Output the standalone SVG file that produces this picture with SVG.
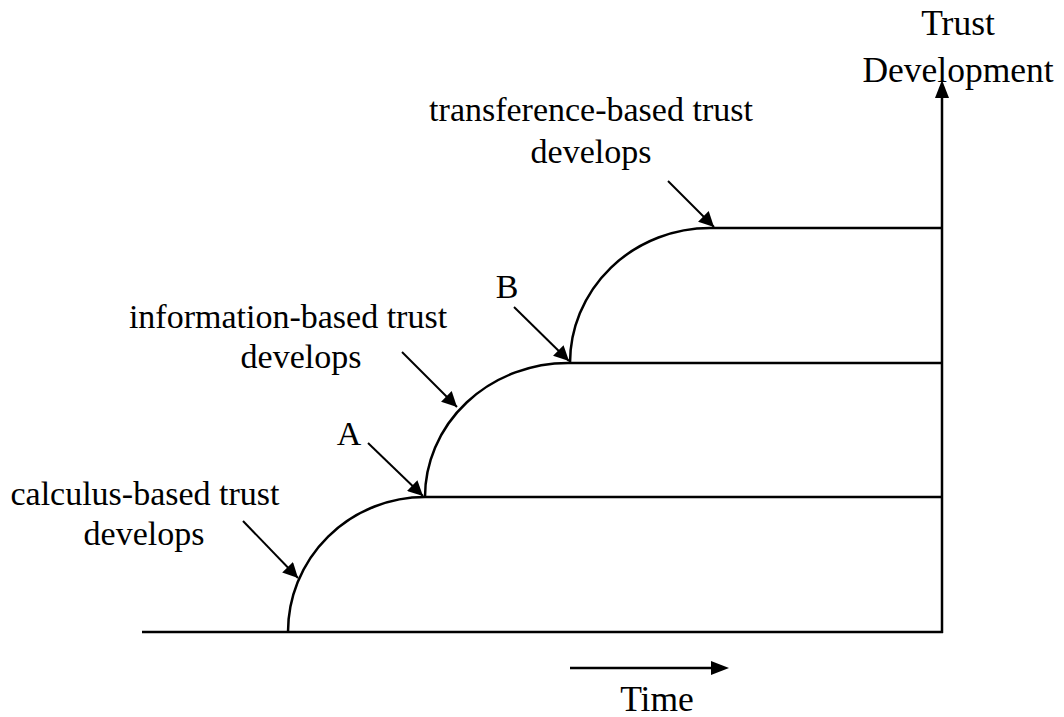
<svg xmlns="http://www.w3.org/2000/svg" width="1064" height="717" viewBox="0 0 1064 717">
<defs>
<style>
text{font-family:"Liberation Serif","Times New Roman",serif;font-size:34px;fill:#000;text-anchor:middle}
.axl{font-size:35.5px}
.ln{fill:none;stroke:#000;stroke-width:2.5}
.ar{fill:none;stroke:#000;stroke-width:2;marker-end:url(#ah)}
</style>
<marker id="ah" viewBox="0 0 10 10" refX="10" refY="5" markerWidth="9" markerHeight="7.5" markerUnits="strokeWidth" orient="auto">
<path d="M0,0 L10,5 L0,10 Z" fill="#000"/>
</marker>
</defs>
<g id="axes">
<line class="ln" x1="142" y1="632" x2="943" y2="632"/>
<line class="ln" x1="942" y1="633" x2="942" y2="96"/>
<path d="M942,80 L935,98 L949,98 Z" fill="#000"/>
<line class="ln" x1="570" y1="668" x2="712" y2="668"/>
<path d="M729,668 L711,661 L711,675 Z" fill="#000"/>
</g>
<g id="curves">
<path class="ln" d="M288,632 A137,135 0 0 1 425,497 L942,497"/>
<path class="ln" d="M425,497 A143,134 0 0 1 568,363 L942,363"/>
<path class="ln" d="M570,363 A140,135 0 0 1 710,228 L942,228"/>
</g>
<g id="connectors">
<line class="ar" x1="243" y1="521" x2="298" y2="578"/>
<line class="ar" x1="368" y1="443" x2="423" y2="496"/>
<line class="ar" x1="402" y1="352" x2="457" y2="407"/>
<line class="ar" x1="514" y1="307" x2="569" y2="361"/>
<line class="ar" x1="668" y1="181" x2="714" y2="227"/>
</g>
<g id="label-transference">
<text x="591" y="121">transference-based trust</text>
<text x="591" y="163">develops</text>
</g>
<g id="label-information">
<text x="288" y="328">information-based trust</text>
<text x="301" y="368">develops</text>
</g>
<g id="label-calculus">
<text x="145" y="505">calculus-based trust</text>
<text x="144" y="545">develops</text>
</g>
<g id="label-A"><text x="349" y="445">A</text></g>
<g id="label-B"><text x="507" y="298">B</text></g>
<g id="label-axis-y">
<text class="axl" x="958" y="35">Trust</text>
<text class="axl" x="958" y="82">Development</text>
</g>
<g id="label-axis-x"><text class="axl" x="657" y="711">Time</text></g>
</svg>
